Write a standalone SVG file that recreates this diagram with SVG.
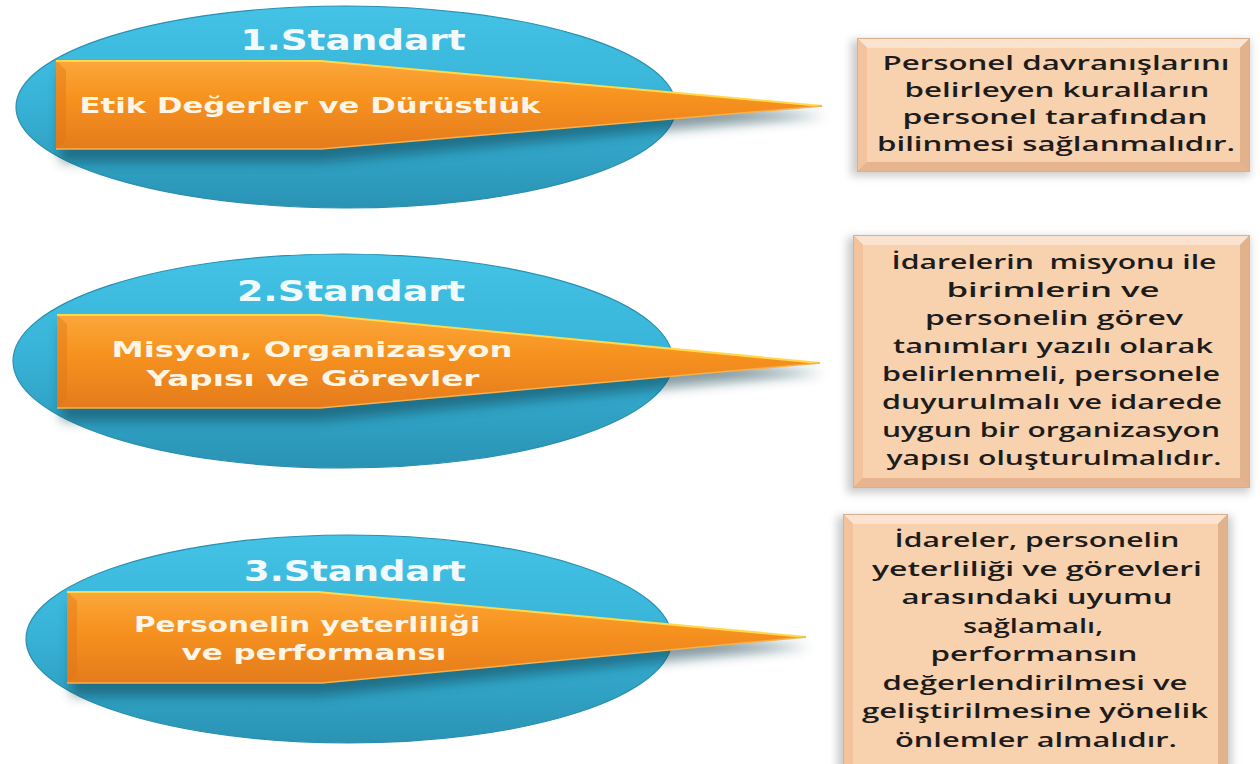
<svg xmlns="http://www.w3.org/2000/svg" width="1260" height="764" viewBox="0 0 1260 764">
<defs>
<linearGradient id="ellG" x1="0" y1="0" x2="0" y2="1">
<stop offset="0" stop-color="#43c3e6"/>
<stop offset="0.45" stop-color="#38b4d8"/>
<stop offset="1" stop-color="#2a93b4"/>
</linearGradient>
<linearGradient id="arrG" x1="0" y1="0" x2="0" y2="1">
<stop offset="0" stop-color="#fba73c"/>
<stop offset="0.4" stop-color="#f7931f"/>
<stop offset="1" stop-color="#e57b1c"/>
</linearGradient>
<filter id="blur" x="-20%" y="-50%" width="140%" height="200%">
<feGaussianBlur stdDeviation="6"/>
</filter>
<filter id="blur2" x="-10%" y="-10%" width="120%" height="120%">
<feGaussianBlur stdDeviation="4"/>
</filter>
<style>
.ell{fill:url(#ellG);stroke:#2a8fb0;stroke-width:1.2}
.arr{fill:url(#arrG)}
.bevL{fill:#de7415;opacity:0.4}
.hl{fill:none;stroke:#ffd94a;stroke-width:2}
.hlb{fill:none;stroke:#f9b04a;stroke-width:1.5}
.ash{fill:#0c3a4a;opacity:0.5}
.title{font-family:"DejaVu Sans",sans-serif;font-weight:bold;font-size:29px;fill:#f2fafc;text-anchor:middle}
.lab{font-family:"DejaVu Sans",sans-serif;font-weight:bold;font-size:22px;fill:#fdf5e6;text-anchor:middle}
.bsh{fill:#9a9a9a;opacity:0.5}
.bout{fill:#d9b08e}
.btop{fill:#fbe3cf}
.bleft{fill:#f2c39d}
.bright{fill:#e2b28c}
.bbot{fill:#e6b48e}
.bface{fill:#f8d1af}
.bt{font-family:"Open Sans",sans-serif;font-weight:600;font-size:19.5px;fill:#1c1c1c;text-anchor:middle}
</style>
</defs>
<rect width="1260" height="764" fill="#ffffff"/>

<g id="node1">
<ellipse class="ell" cx="346" cy="107" rx="330" ry="101"/>
<path class="ash" filter="url(#blur)" d="M60,72 L321,72 L826,116 L321,162 L60,162 Z"/>
<path class="arr" d="M56,61 L321,61 L822,106 L321,149 L56,149 Z"/>
<path class="bevL" d="M56,61 L66,70 L66,140 L56,149 Z"/>
<path class="hl" d="M56,61 L321,61 L822,106"/>
<path class="hlb" d="M822,106 L321,149 L56,149"/>
<text class="title" x="353" y="50" textLength="225" lengthAdjust="spacingAndGlyphs">1.Standart</text>
<text class="lab" x="310" y="113" textLength="461" lengthAdjust="spacingAndGlyphs">Etik Değerler ve Dürüstlük</text>
</g>

<g id="node2">
<ellipse class="ell" cx="343" cy="361" rx="330" ry="107"/>
<path class="ash" filter="url(#blur)" d="M61,327 L320,327 L824,373 L320,421 L61,421 Z"/>
<path class="arr" d="M57,315 L320,315 L820,363 L320,408 L57,408 Z"/>
<path class="bevL" d="M57,315 L67,324 L67,399 L57,408 Z"/>
<path class="hl" d="M57,315 L320,315 L820,363"/>
<path class="hlb" d="M820,363 L320,408 L57,408"/>
<text class="title" x="351" y="301" textLength="228" lengthAdjust="spacingAndGlyphs">2.Standart</text>
<text class="lab" x="312" y="357" textLength="401" lengthAdjust="spacingAndGlyphs">Misyon, Organizasyon</text>
<text class="lab" x="313" y="386" textLength="333" lengthAdjust="spacingAndGlyphs">Yapısı ve Görevler</text>
</g>

<g id="node3">
<ellipse class="ell" cx="349" cy="639" rx="323" ry="104"/>
<path class="ash" filter="url(#blur)" d="M71,604 L318,604 L810,647 L318,696 L71,696 Z"/>
<path class="arr" d="M67,592 L318,592 L806,637 L322,683 L67,683 Z"/>
<path class="bevL" d="M67,592 L77,601 L77,674 L67,683 Z"/>
<path class="hl" d="M67,592 L318,592 L806,637"/>
<path class="hlb" d="M806,637 L322,683 L67,683"/>
<text class="title" x="355" y="581" textLength="222" lengthAdjust="spacingAndGlyphs">3.Standart</text>
<text class="lab" x="307" y="632" textLength="346" lengthAdjust="spacingAndGlyphs">Personelin yeterliliği</text>
<text class="lab" x="314" y="660" textLength="265" lengthAdjust="spacingAndGlyphs">ve performansı</text>
</g>

<g id="box1">
<rect class="bsh" filter="url(#blur2)" x="851" y="40" width="399" height="136"/>
<rect class="bout" x="857" y="38" width="393" height="134"/>
<polygon class="btop" points="858,39 1249,39 1240,48 867,48"/>
<polygon class="bleft" points="858,39 867,48 867,162 858,171"/>
<polygon class="bright" points="1249,39 1249,171 1240,162 1240,48"/>
<polygon class="bbot" points="858,171 1249,171 1240,162 867,162"/>
<rect class="bface" x="867" y="48" width="373" height="114"/>
<text class="bt" x="1056" y="70" textLength="347" lengthAdjust="spacingAndGlyphs">Personel davranışlarını</text>
<text class="bt" x="1057" y="97" textLength="305" lengthAdjust="spacingAndGlyphs">belirleyen kuralların</text>
<text class="bt" x="1055" y="124" textLength="305" lengthAdjust="spacingAndGlyphs">personel tarafından</text>
<text class="bt" x="1056" y="151" textLength="358" lengthAdjust="spacingAndGlyphs">bilinmesi sağlanmalıdır.</text>
</g>

<g id="box2">
<rect class="bsh" filter="url(#blur2)" x="847" y="237" width="403" height="256"/>
<rect class="bout" x="853" y="235" width="397" height="253"/>
<polygon class="btop" points="854,236 1249,236 1240,245 863,245"/>
<polygon class="bleft" points="854,236 863,245 863,478 854,487"/>
<polygon class="bright" points="1249,236 1249,487 1240,478 1240,245"/>
<polygon class="bbot" points="854,487 1249,487 1240,478 863,478"/>
<rect class="bface" x="863" y="245" width="377" height="233"/>
<text class="bt" x="1054" y="269" textLength="325" lengthAdjust="spacingAndGlyphs" xml:space="preserve">İdarelerin  misyonu ile</text>
<text class="bt" x="1053" y="297" textLength="213" lengthAdjust="spacingAndGlyphs">birimlerin ve</text>
<text class="bt" x="1054" y="325" textLength="258" lengthAdjust="spacingAndGlyphs">personelin görev</text>
<text class="bt" x="1053" y="353" textLength="320" lengthAdjust="spacingAndGlyphs">tanımları yazılı olarak</text>
<text class="bt" x="1051" y="381" textLength="338" lengthAdjust="spacingAndGlyphs">belirlenmeli, personele</text>
<text class="bt" x="1052" y="409" textLength="340" lengthAdjust="spacingAndGlyphs">duyurulmalı ve idarede</text>
<text class="bt" x="1051" y="437" textLength="338" lengthAdjust="spacingAndGlyphs">uygun bir organizasyon</text>
<text class="bt" x="1054" y="465" textLength="335" lengthAdjust="spacingAndGlyphs">yapısı oluşturulmalıdır.</text>
</g>

<g id="box3">
<rect class="bsh" filter="url(#blur2)" x="837" y="516" width="395" height="260"/>
<rect class="bout" x="843" y="514" width="385" height="260"/>
<polygon class="btop" points="844,515 1227,515 1218,524 853,524"/>
<polygon class="bleft" points="844,515 853,524 853,774 844,774"/>
<polygon class="bright" points="1227,515 1227,774 1218,774 1218,524"/>
<rect class="bface" x="853" y="524" width="365" height="250"/>
<text class="bt" x="1037" y="547" textLength="285" lengthAdjust="spacingAndGlyphs">İdareler, personelin</text>
<text class="bt" x="1037" y="576" textLength="330" lengthAdjust="spacingAndGlyphs">yeterliliği ve görevleri</text>
<text class="bt" x="1037" y="604" textLength="271" lengthAdjust="spacingAndGlyphs">arasındaki uyumu</text>
<text class="bt" x="1033" y="633" textLength="140" lengthAdjust="spacingAndGlyphs">sağlamalı,</text>
<text class="bt" x="1034" y="661" textLength="207" lengthAdjust="spacingAndGlyphs">performansın</text>
<text class="bt" x="1035" y="690" textLength="305" lengthAdjust="spacingAndGlyphs">değerlendirilmesi ve</text>
<text class="bt" x="1035" y="718" textLength="346" lengthAdjust="spacingAndGlyphs">geliştirilmesine yönelik</text>
<text class="bt" x="1036" y="747" textLength="282" lengthAdjust="spacingAndGlyphs">önlemler almalıdır.</text>
</g>

<g id="connectors"></g>
</svg>
